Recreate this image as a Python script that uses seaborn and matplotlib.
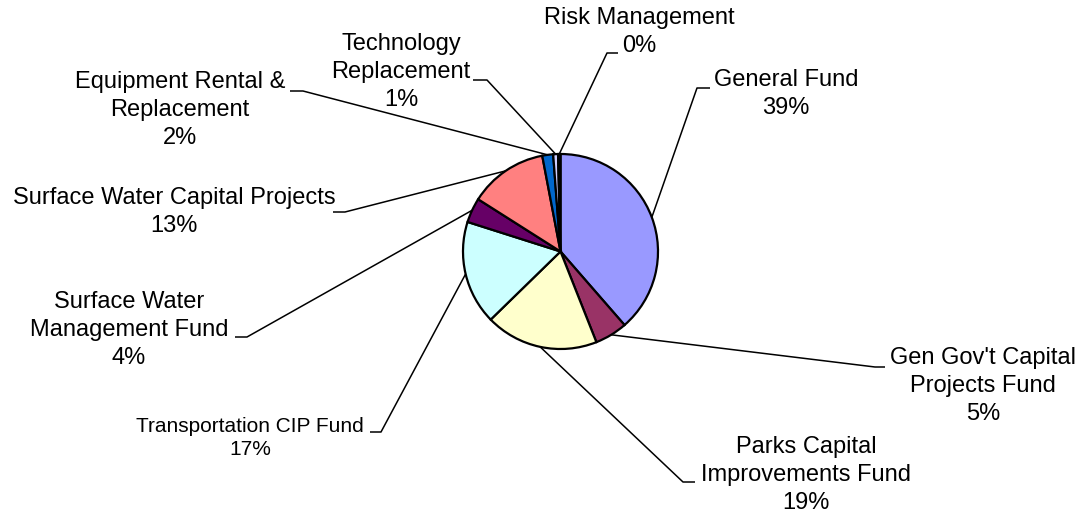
import numpy as np
import matplotlib
matplotlib.use("Agg")
import matplotlib.pyplot as plt
import seaborn as sns

# Data (share of total)
categories = [
    "General Fund",
    "Gen Gov't Capital\nProjects Fund",
    "Parks Capital\nImprovements Fund",
    "Transportation CIP Fund",
    "Surface Water\nManagement Fund",
    "Surface Water Capital Projects",
    "Equipment Rental &\nReplacement",
    "Technology\nReplacement",
    "Risk Management",
]
shares = [38.6, 5.4, 18.7, 17.2, 4.1, 13.0, 1.8, 0.8, 0.4]
colors = ["#9999FF", "#993366", "#FFFFCC", "#CCFFFF", "#660066",
          "#FF8080", "#0066CC", "#CCCCFF", "#000080"]

# Layout (pixel coords, y measured from top of the image)
W, H = 1083, 514
pie_center = (560.5, 251.5)
pie_radius = 97.5
label_xy = [(786, 94), (983, 386), (806, 475), (250, 438), (129, 330),
            (174, 212), (180, 110), (401, 72), (639, 32)]
elbow_xy = [(697, 88), (875, 367), (683, 482), (381, 432), (247, 337),
            (345, 212), (303, 91), (487, 80), (607, 53)]
tail_xy = [(710, 88), (885, 367), (695, 482), (370, 432), (235, 337),
           (333, 212), (290, 91), (473, 80), (618, 53)]
font_sizes = [17, 17, 17, 15, 17, 17, 17, 17, 17]

sns.set_theme(style="white")
plt.rcParams["font.family"] = ["Liberation Sans", "DejaVu Sans"]

fig = plt.figure(figsize=(W / 100, H / 100), dpi=100)
ax = fig.add_axes([0, 0, 1, 1])

cx, cy = pie_center[0], H - pie_center[1]
wedges, _ = ax.pie(
    shares,
    colors=sns.color_palette(colors),
    startangle=90,
    counterclock=False,
    center=(cx, cy),
    radius=pie_radius,
    wedgeprops=dict(edgecolor="black", linewidth=1.6),
    frame=True,
)

total = sum(shares)
for i, w in enumerate(wedges):
    mid = np.deg2rad((w.theta1 + w.theta2) / 2)
    ax_x = cx + pie_radius * np.cos(mid)
    ax_y = cy + pie_radius * np.sin(mid)
    ex, ey = elbow_xy[i]
    tx, ty = tail_xy[i]
    ax.plot([ax_x, ex, tx], [ax_y, H - ey, H - ty], color="black",
            lw=1.1, solid_capstyle="butt", zorder=0)
    pct = f"{round(shares[i] / total * 100)}%"
    lx, ly = label_xy[i]
    ax.text(lx, H - ly, f"{categories[i]}\n{pct}", ha="center", va="center",
            multialignment="center", fontsize=font_sizes[i], linespacing=1.33,
            color="black")

ax.set_xlim(0, W)
ax.set_ylim(0, H)
ax.set_aspect("equal")
ax.axis("off")

plt.savefig("out.png", dpi=100)
